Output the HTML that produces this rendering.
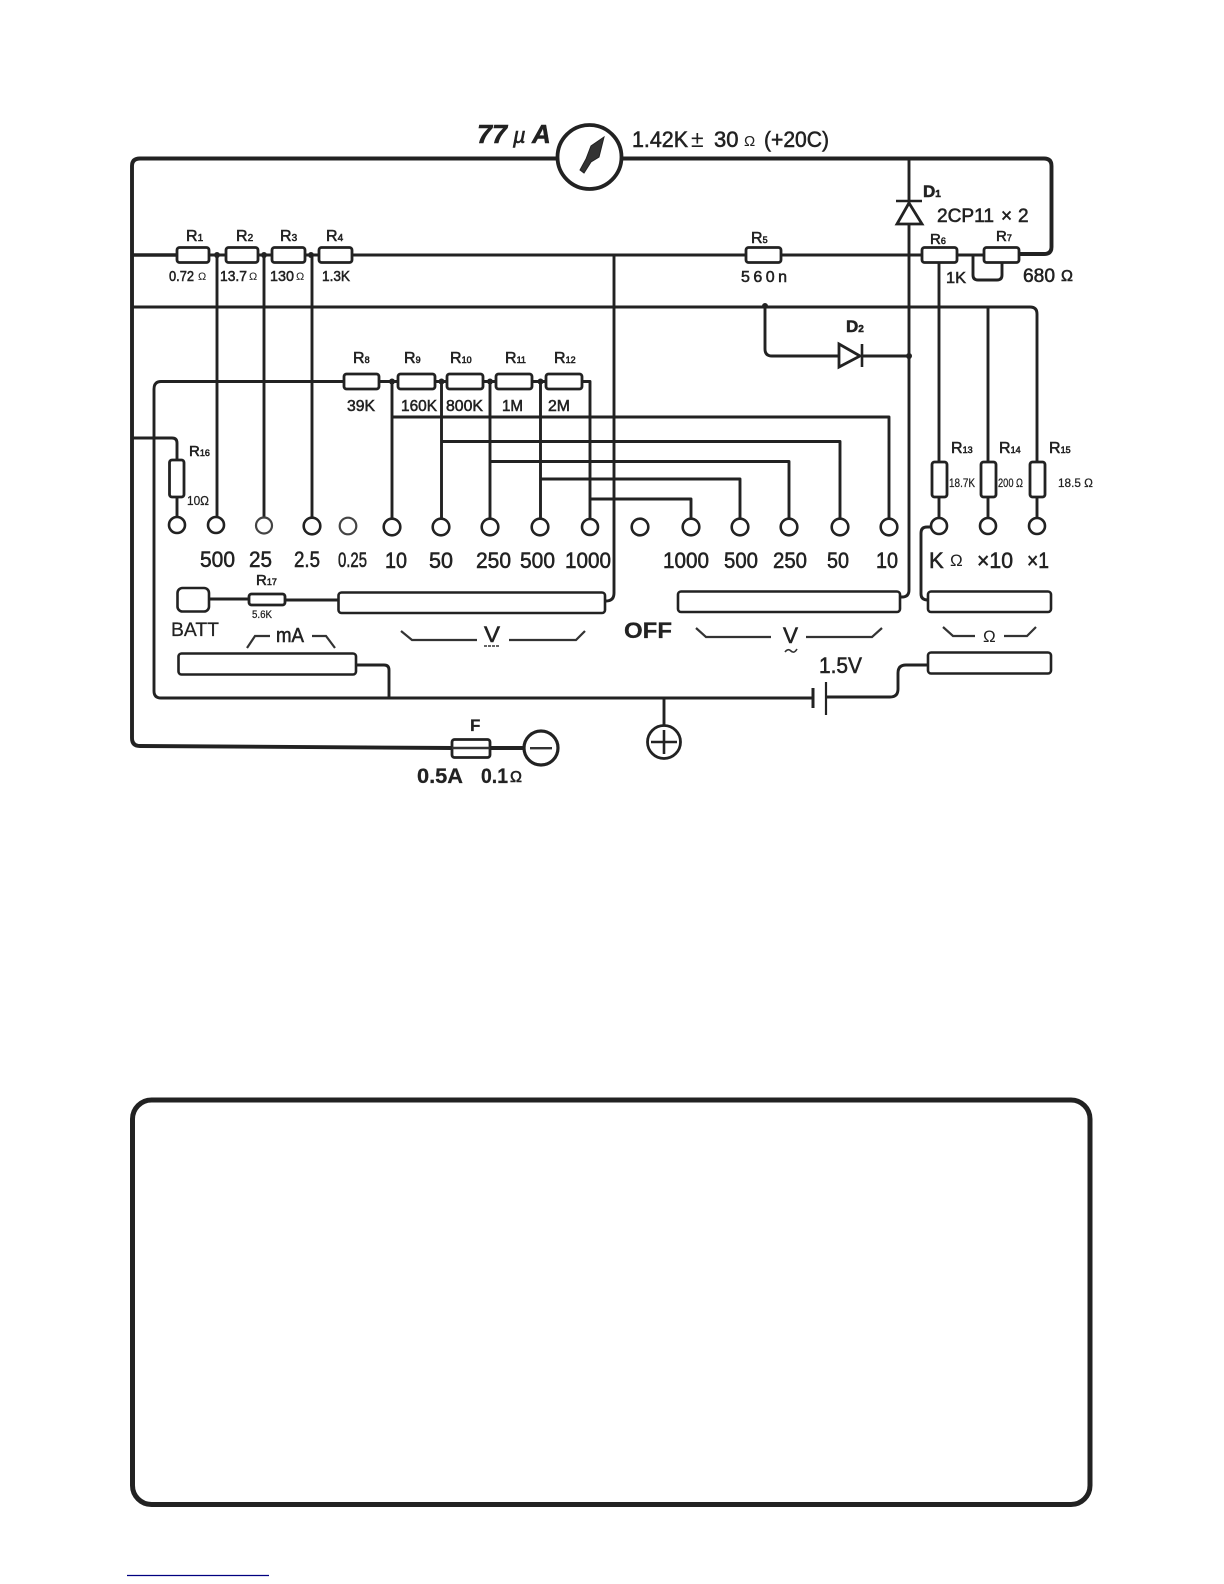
<!DOCTYPE html>
<html><head><meta charset="utf-8"><style>
html,body{margin:0;padding:0;background:#fff}
svg{display:block}
text{font-family:"Liberation Sans",sans-serif;fill:#222;stroke:#222;stroke-width:.55}
.s{stroke-width:.25}
.w{fill:none;stroke:#222;stroke-width:2.9;stroke-linejoin:round}
.t{fill:none;stroke:#222;stroke-width:3.9;stroke-linejoin:round}
.r{fill:#fff;stroke:#222;stroke-width:2.8}
.h{fill:#fff;stroke:#222;stroke-width:2.6}
.g{fill:#fff;stroke:#444;stroke-width:2.2}
.b{fill:none;stroke:#333;stroke-width:2.2}
</style></head><body>
<svg xmlns="http://www.w3.org/2000/svg" width="1224" height="1584" viewBox="0 0 1224 1584">
<rect width="1224" height="1584" fill="#fff"/>
<rect x="132.5" y="1100" width="957.5" height="404.5" rx="19" fill="none" stroke="#222" stroke-width="5"/>
<line x1="127" y1="1575.5" x2="269" y2="1575.5" stroke="#000080" stroke-width="1.3"/>

<!-- thick outer -->
<path class="t" d="M558 158.5H140Q132 158.5 132 166V738Q132 746 140 746L452 748M490 748H524"/>
<path class="t" d="M622 158.5H1044Q1051.5 158.5 1051.5 166V247Q1051.5 254 1044 254H1019"/>
<line class="w" x1="132" y1="255" x2="177" y2="255" style="stroke-width:3.6"/>
<path class="w" d="M209 255H746M781 255H922M957 255H984"/>
<path class="w" d="M132 307H1030Q1037 307 1037 314V462M1037 497V518"/>
<path class="w" d="M909 158V590Q909 597 902 597H900"/>
<path class="w" d="M614 255V593Q614 601 606 601"/>
<path class="w" d="M217 255V517M264 255V517M312 255V518"/>
<path class="w" d="M939 263V462M939 497V518M988 307V462M988 497V518"/>
<path class="w" d="M765 307V349Q765 356 772 356H839M862 356H909"/>
<path class="w" d="M1002 263V275Q1002 280 997 280H978Q973 280 973 275V255"/>
<path class="w" d="M344 381.5H161Q154 381.5 154 389V691Q154 698 161 698H813M826 697H890Q898 697 898 689V673Q898 665 906 665H928"/>
<path class="w" d="M379 381.5H398M435 381.5H447M483 381.5H496M532 381.5H546M582 381.5H590V519"/>
<path class="w" d="M392 381.5V519M441.5 381.5V519M490 381.5V519M540.5 381.5V519"/>
<path class="w" d="M392 417H889V519M441.5 441.5H840V519M490 461.5H789V519M540.5 479H740V519M590 499H691V519"/>
<path class="w" d="M132 438H172Q177 438 177 443V460M177 497V517"/>
<path class="w" d="M356 665H384Q389 665 389 670V698"/>
<path class="w" d="M209 599H249M286 600H338"/>
<path class="w" d="M664 698V725"/>
<path class="w" d="M931 527H927Q921 527 921 533V594Q921 600 928 600"/>

<circle cx="217" cy="255" r="3" fill="#222"/><circle cx="264" cy="255" r="3" fill="#222"/><circle cx="311" cy="255" r="3" fill="#222"/>
<circle cx="392" cy="381.5" r="3" fill="#222"/><circle cx="441.5" cy="381.5" r="3" fill="#222"/><circle cx="490" cy="381.5" r="3" fill="#222"/><circle cx="540.5" cy="381.5" r="3" fill="#222"/>
<circle cx="765" cy="306" r="3" fill="#222"/><circle cx="909" cy="356" r="3" fill="#222"/>

<!-- resistors -->
<rect class="r" x="177" y="247.5" width="32" height="15" rx="2.5"/>
<rect class="r" x="226" y="247.5" width="32" height="15" rx="2.5"/>
<rect class="r" x="272" y="247.5" width="33" height="15" rx="2.5"/>
<rect class="r" x="319" y="247.5" width="33" height="15" rx="2.5"/>
<rect class="r" x="746" y="247.5" width="35" height="15" rx="2.5"/>
<rect class="r" x="922" y="247.5" width="35" height="15" rx="2.5"/>
<rect class="r" x="984" y="247.5" width="35" height="15" rx="2.5"/>
<rect class="r" x="344" y="374" width="35" height="15" rx="2.5"/>
<rect class="r" x="398" y="374" width="37" height="15" rx="2.5"/>
<rect class="r" x="447" y="374" width="36" height="15" rx="2.5"/>
<rect class="r" x="496" y="374" width="36" height="15" rx="2.5"/>
<rect class="r" x="546" y="374" width="36" height="15" rx="2.5"/>
<rect class="r" x="169.5" y="460" width="14.5" height="37" rx="2.5"/>
<rect class="r" x="932" y="462" width="15" height="35" rx="2.5"/>
<rect class="r" x="981" y="462" width="15" height="35" rx="2.5"/>
<rect class="r" x="1030" y="462" width="15" height="35" rx="2.5"/>
<rect class="r" x="249" y="594" width="36" height="11" rx="2.5"/>
<rect class="r" x="452" y="739.5" width="38" height="18" rx="2.5"/>
<line x1="452" y1="748" x2="490" y2="748" stroke="#333" stroke-width="2.4"/>

<!-- switch bars -->
<rect class="h" x="338.5" y="592.5" width="266.5" height="20.5" rx="3"/>
<rect class="h" x="678" y="591.5" width="222" height="20.5" rx="3"/>
<rect class="h" x="928" y="591.5" width="123" height="20.5" rx="3"/>
<rect class="h" x="928" y="652.5" width="123" height="21" rx="3"/>
<rect class="h" x="178.5" y="653.5" width="177.5" height="21" rx="3"/>
<rect class="h" x="177.5" y="588" width="31.5" height="23.5" rx="5"/>

<!-- terminals -->
<circle class="h" cx="177" cy="525" r="8"/><circle class="h" cx="216" cy="525" r="8"/>
<circle class="g" cx="264" cy="525.5" r="8"/><circle class="h" cx="312" cy="526" r="8.3"/>
<circle class="g" cx="348" cy="526" r="8.3"/><circle class="h" cx="392" cy="527" r="8.3"/>
<circle class="h" cx="441" cy="527" r="8.3"/><circle class="h" cx="490" cy="527" r="8.3"/>
<circle class="h" cx="540" cy="527" r="8.3"/><circle class="h" cx="590" cy="527" r="8"/>
<circle class="h" cx="640" cy="527" r="8.3"/><circle class="h" cx="691" cy="527" r="8.3"/>
<circle class="h" cx="740" cy="527" r="8.3"/><circle class="h" cx="789" cy="527" r="8.3"/>
<circle class="h" cx="840" cy="527" r="8.3"/><circle class="h" cx="889" cy="527" r="8.3"/>
<circle class="h" cx="939" cy="526" r="8"/><circle class="h" cx="988" cy="526" r="8"/><circle class="h" cx="1037" cy="526" r="8"/>

<!-- meter -->
<circle cx="589.5" cy="157" r="32" fill="#fff" stroke="#222" stroke-width="3.8"/>
<path d="M580 170L584 173L591 162L599 157L604 137L591 146L586 159Z" fill="#333" stroke="#222" stroke-width="1"/>

<!-- diodes -->
<path d="M896 201H922" stroke="#222" stroke-width="2.6" fill="none"/>
<path d="M909 203L897 224H922Z" fill="#fff" stroke="#222" stroke-width="2.8"/>
<path d="M839 344L860 356L839 367Z" fill="#fff" stroke="#222" stroke-width="2.8"/>
<path d="M862 344V367" stroke="#222" stroke-width="2.6" fill="none"/>

<!-- battery -->
<path d="M813 688V708" stroke="#222" stroke-width="3"/><path d="M826 682V715" stroke="#222" stroke-width="2.2"/>

<!-- jacks -->
<circle cx="541" cy="748" r="17" fill="#fff" stroke="#222" stroke-width="3.2"/>
<rect x="530" y="747" width="22" height="2.4" fill="#333"/>
<circle cx="664" cy="742" r="16.5" fill="#fff" stroke="#222" stroke-width="2.8"/>
<path d="M651 742H677M664 730V754" stroke="#222" stroke-width="2.6"/>

<!-- brackets -->
<path class="b" d="M247 648L255 636H270M312 636H326L335 648"/>
<path class="b" d="M401 631L412 640H477M509 640H576L585 631"/>
<path class="b" d="M696 628L706 637H771M806 637H872L882 628"/>
<path class="b" d="M943 627L953 636H975M1004 636H1027L1036 627"/>

<!-- labels -->
<text x="477" y="143" font-size="26" font-weight="bold" font-style="italic" textLength="30" lengthAdjust="spacingAndGlyphs">77</text>
<text x="513" y="143" font-size="22" font-style="italic" font-family="Liberation Serif">µ</text>
<text x="532" y="143" font-size="26" font-weight="bold" font-style="italic">A</text>

<text x="632" y="147" font-size="22" textLength="56" lengthAdjust="spacingAndGlyphs">1.42K</text>
<text x="691" y="147" font-size="23" style="stroke-width:0">±</text>
<text x="714" y="147" font-size="22">30</text>
<text x="744" y="146" font-size="15" style="stroke-width:0">Ω</text>
<text x="764" y="147" font-size="22" textLength="65" lengthAdjust="spacingAndGlyphs">(+20C)</text>

<text x="186" y="241" font-size="16">R<tspan font-size="10">1</tspan></text>
<text x="236" y="241" font-size="16">R<tspan font-size="10">2</tspan></text>
<text x="280" y="241" font-size="16">R<tspan font-size="10">3</tspan></text>
<text x="326" y="241" font-size="16">R<tspan font-size="10">4</tspan></text>
<text x="751" y="243" font-size="16">R<tspan font-size="9">5</tspan></text>
<text x="930" y="244" font-size="15">R<tspan font-size="9">6</tspan></text>
<text x="996" y="241" font-size="15">R<tspan font-size="9">7</tspan></text>

<text x="169" y="281" font-size="15" textLength="25" lengthAdjust="spacingAndGlyphs">0.72</text>
<text x="198" y="280" font-size="11" style="stroke-width:0">Ω</text>
<text x="220" y="281" font-size="15" textLength="27" lengthAdjust="spacingAndGlyphs">13.7</text>
<text x="249" y="280" font-size="11" style="stroke-width:0">Ω</text>
<text x="270" y="281" font-size="15" textLength="24" lengthAdjust="spacingAndGlyphs">130</text>
<text x="296" y="280" font-size="11" style="stroke-width:0">Ω</text>
<text x="322" y="281" font-size="15" textLength="28" lengthAdjust="spacingAndGlyphs">1.3K</text>
<text x="741" y="282" font-size="16" textLength="46">560n</text>
<text x="946" y="283" font-size="16" textLength="20" lengthAdjust="spacingAndGlyphs">1K</text>
<text x="1023" y="282" font-size="19" textLength="32" lengthAdjust="spacingAndGlyphs">680</text>
<text x="1061" y="281" font-size="16">Ω</text>

<text x="923" y="197" font-size="17" font-weight="bold">D<tspan font-size="10">1</tspan></text>
<text x="937" y="222" font-size="19" textLength="57" lengthAdjust="spacingAndGlyphs">2CP11</text>
<text x="1001" y="222" font-size="19">×</text>
<text x="1018" y="222" font-size="19">2</text>
<text x="846" y="332" font-size="17" font-weight="bold">D<tspan font-size="10">2</tspan></text>

<text x="353" y="363" font-size="16">R<tspan font-size="9">8</tspan></text>
<text x="404" y="363" font-size="16">R<tspan font-size="9">9</tspan></text>
<text x="450" y="363" font-size="16">R<tspan font-size="9">10</tspan></text>
<text x="505" y="363" font-size="16">R<tspan font-size="9">11</tspan></text>
<text x="554" y="363" font-size="16">R<tspan font-size="9">12</tspan></text>

<text x="347" y="411" font-size="16" textLength="28" lengthAdjust="spacingAndGlyphs">39K</text>
<text x="401" y="411" font-size="16" textLength="36" lengthAdjust="spacingAndGlyphs">160K</text>
<text x="446" y="411" font-size="16" textLength="37" lengthAdjust="spacingAndGlyphs">800K</text>
<text x="502" y="411" font-size="16" textLength="21" lengthAdjust="spacingAndGlyphs">1M</text>
<text x="548" y="411" font-size="16" textLength="22" lengthAdjust="spacingAndGlyphs">2M</text>

<text x="189" y="456" font-size="15">R<tspan font-size="9">16</tspan></text>
<text class="s" x="187" y="505" font-size="13" textLength="22" lengthAdjust="spacingAndGlyphs">10Ω</text>
<text x="951" y="453" font-size="16">R<tspan font-size="9">13</tspan></text>
<text x="999" y="453" font-size="16">R<tspan font-size="9">14</tspan></text>
<text x="1049" y="453" font-size="16">R<tspan font-size="9">15</tspan></text>
<text class="s" x="949" y="487" font-size="12" textLength="26" lengthAdjust="spacingAndGlyphs">18.7K</text>
<text class="s" x="998" y="487" font-size="12" textLength="25" lengthAdjust="spacingAndGlyphs">200 Ω</text>
<text class="s" x="1058" y="487" font-size="12" textLength="35" lengthAdjust="spacingAndGlyphs">18.5 Ω</text>

<text x="200" y="567" font-size="22" textLength="35" lengthAdjust="spacingAndGlyphs">500</text>
<text x="249" y="567" font-size="22" textLength="23" lengthAdjust="spacingAndGlyphs">25</text>
<text x="294" y="567" font-size="22" textLength="26" lengthAdjust="spacingAndGlyphs">2.5</text>
<text x="338" y="567" font-size="21" textLength="29" lengthAdjust="spacingAndGlyphs">0.25</text>
<text x="385" y="568" font-size="22" textLength="22" lengthAdjust="spacingAndGlyphs">10</text>
<text x="429" y="568" font-size="22" textLength="24" lengthAdjust="spacingAndGlyphs">50</text>
<text x="476" y="568" font-size="22" textLength="35" lengthAdjust="spacingAndGlyphs">250</text>
<text x="520" y="568" font-size="22" textLength="35" lengthAdjust="spacingAndGlyphs">500</text>
<text x="565" y="568" font-size="22" textLength="46" lengthAdjust="spacingAndGlyphs">1000</text>
<text x="663" y="568" font-size="22" textLength="46" lengthAdjust="spacingAndGlyphs">1000</text>
<text x="724" y="568" font-size="22" textLength="34" lengthAdjust="spacingAndGlyphs">500</text>
<text x="773" y="568" font-size="22" textLength="34" lengthAdjust="spacingAndGlyphs">250</text>
<text x="827" y="568" font-size="22" textLength="22" lengthAdjust="spacingAndGlyphs">50</text>
<text x="876" y="568" font-size="22" textLength="22" lengthAdjust="spacingAndGlyphs">10</text>
<text x="929" y="568" font-size="22">K</text>
<text x="950" y="566" font-size="17" style="stroke-width:0">Ω</text>
<text x="977" y="568" font-size="22" textLength="36" lengthAdjust="spacingAndGlyphs">×10</text>
<text x="1027" y="568" font-size="22" textLength="22" lengthAdjust="spacingAndGlyphs">×1</text>

<text x="256" y="585" font-size="15">R<tspan font-size="9">17</tspan></text>
<text class="s" x="252" y="618" font-size="11" textLength="20" lengthAdjust="spacingAndGlyphs">5.6K</text>
<text class="s" x="171" y="636" font-size="19" textLength="48" lengthAdjust="spacingAndGlyphs">BATT</text>
<text x="276" y="642" font-size="20" textLength="28" lengthAdjust="spacingAndGlyphs">mA</text>
<text x="484" y="642" font-size="22" textLength="16" lengthAdjust="spacingAndGlyphs">V</text>
<path d="M484 646H500" stroke="#333" stroke-width="1.5" stroke-dasharray="3 1"/>
<text class="s" x="624" y="638" font-size="22" font-weight="bold" textLength="48" lengthAdjust="spacingAndGlyphs">OFF</text>
<text x="783" y="643" font-size="22" textLength="15" lengthAdjust="spacingAndGlyphs">V</text>
<path d="M785 652Q788 648 791 651T797 649" fill="none" stroke="#333" stroke-width="1.6"/>
<text x="983" y="642" font-size="17" style="stroke-width:0">Ω</text>
<text x="819" y="673" font-size="22" textLength="43" lengthAdjust="spacingAndGlyphs">1.5V</text>
<text class="s" x="470" y="731" font-size="17" font-weight="bold">F</text>
<text class="s" x="417" y="783" font-size="21" font-weight="bold" textLength="46" lengthAdjust="spacingAndGlyphs">0.5A</text>
<text class="s" x="481" y="783" font-size="21" font-weight="bold" textLength="27" lengthAdjust="spacingAndGlyphs">0.1</text>
<text x="510" y="782" font-size="16">Ω</text>
</svg>
</body></html>
